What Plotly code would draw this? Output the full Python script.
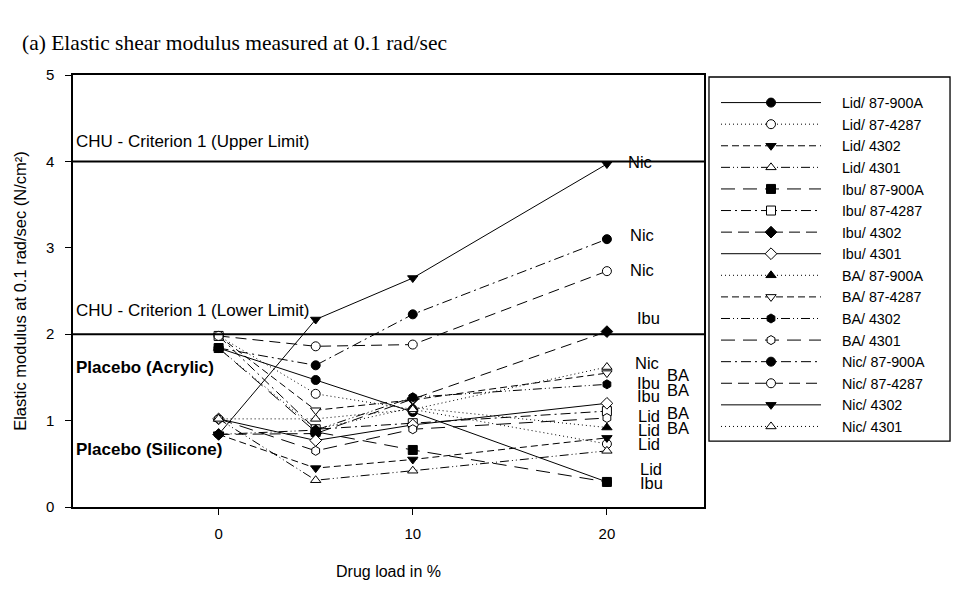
import plotly.graph_objects as go

# ---------------- data ----------------
drug_load = [0, 5, 10, 20]

series_names = [
    "Lid/ 87-900A", "Lid/ 87-4287", "Lid/ 4302", "Lid/ 4301",
    "Ibu/ 87-900A", "Ibu/ 87-4287", "Ibu/ 4302", "Ibu/ 4301",
    "BA/ 87-900A", "BA/ 87-4287", "BA/ 4302", "BA/ 4301",
    "Nic/ 87-900A", "Nic/ 87-4287", "Nic/ 4302", "Nic/ 4301",
]

lid_87_900a = [1.84, 1.47, 1.10, 0.29]
lid_87_4287 = [1.98, 1.31, 1.13, 0.73]
lid_4302 = [0.84, 0.45, 0.55, 0.80]
lid_4301 = [1.02, 0.31, 0.42, 0.65]
ibu_87_900a = [1.84, 0.87, 0.66, 0.29]
ibu_87_4287 = [1.98, 0.90, 0.97, 1.11]
ibu_4302 = [0.84, 0.85, 1.25, 2.03]
ibu_4301 = [1.02, 0.77, 0.95, 1.20]
ba_87_900a = [1.84, 0.90, 1.15, 0.92]
ba_87_4287 = [1.98, 1.12, 1.24, 1.55]
ba_4302 = [0.84, 0.89, 1.27, 1.42]
ba_4301 = [1.02, 0.65, 0.90, 1.03]
nic_87_900a = [1.84, 1.64, 2.23, 3.10]
nic_87_4287 = [1.98, 1.86, 1.88, 2.73]
nic_4302 = [0.84, 2.17, 2.65, 3.97]
nic_4301 = [1.02, 1.02, 1.13, 1.62]

series_values = [
    lid_87_900a, lid_87_4287, lid_4302, lid_4301,
    ibu_87_900a, ibu_87_4287, ibu_4302, ibu_4301,
    ba_87_900a, ba_87_4287, ba_4302, ba_4301,
    nic_87_900a, nic_87_4287, nic_4302, nic_4301,
]

criterion_levels = [4, 2]
criterion_texts = ["CHU - Criterion 1 (Upper Limit)", "CHU - Criterion 1 (Lower Limit)"]
criterion_text_y = [4.23, 2.27]

placebo_texts = ["Placebo (Acrylic)", "Placebo (Silicone)"]
placebo_y = [1.62, 0.66]

end_labels = ["Nic", "Nic", "Nic", "Ibu", "Nic", "Ibu", "Ibu", "Lid", "Lid", "Lid", "Lid", "Ibu",
              "BA", "BA", "BA", "BA"]
end_label_x = [21.0, 21.1, 21.1, 21.45, 21.35, 21.45, 21.45, 21.5, 21.5, 21.5, 21.6, 21.6,
               23.0, 23.0, 23.0, 23.0]
end_label_y = [3.99, 3.15, 2.74, 2.19, 1.67, 1.43, 1.29, 1.05, 0.89, 0.73, 0.44, 0.28,
               1.53, 1.36, 1.09, 0.91]

x_ticks = [0, 10, 20]
y_ticks = [0, 1, 2, 3, 4, 5]

# ---------------- styles ----------------
DOT = "1px,3px"
DASH = "7px,4px"
DASHDOTDOT = "9px,3px,1px,3px,1px,3px"
LONGDASH = "14px,8px"
DASHDOT = "10px,4px,2px,4px"
MEDDASH = "11px,6px"

styles = [
    ("solid", "circle", True),
    (DOT, "circle", False),
    (DASH, "triangle-down", True),
    (DASHDOTDOT, "triangle-up", False),
    (LONGDASH, "square", True),
    (DASHDOT, "square", False),
    (MEDDASH, "diamond", True),
    ("solid", "diamond", False),
    (DOT, "triangle-up", True),
    (DASH, "triangle-down", False),
    (DASHDOTDOT, "hexagon", True),
    (LONGDASH, "hexagon", False),
    (DASHDOT, "circle", True),
    (MEDDASH, "circle", False),
    ("solid", "triangle-down", True),
    (DOT, "triangle-up", False),
]

PAD = "&nbsp;" * 4

fig = go.Figure()
for name, vals, (dash, sym, filled) in zip(series_names, series_values, styles):
    fig.add_trace(go.Scatter(
        x=drug_load, y=vals, name=PAD + name, mode="lines+markers",
        line=dict(color="black", width=1, dash=dash),
        marker=dict(symbol=sym, size=9,
                    color="black" if filled else "white",
                    line=dict(color="black", width=1)),
    ))

for lvl in criterion_levels:
    fig.add_shape(type="line", xref="paper", x0=0, x1=1, yref="y", y0=lvl, y1=lvl,
                  line=dict(color="black", width=2))

SANS = "Liberation Sans, Arial, sans-serif"
for t, y in zip(criterion_texts, criterion_text_y):
    fig.add_annotation(x=0.002, xref="paper", y=y, yref="y", text=t, showarrow=False,
                       xanchor="left", yanchor="middle",
                       font=dict(family=SANS, size=17, color="black"))
for t, y in zip(placebo_texts, placebo_y):
    fig.add_annotation(x=0.001, xref="paper", y=y, yref="y", text="<b>%s</b>" % t, showarrow=False,
                       xanchor="left", yanchor="middle",
                       font=dict(family=SANS, size=17, color="black"))
for t, x, y in zip(end_labels, end_label_x, end_label_y):
    fig.add_annotation(x=x, y=y, text=t, showarrow=False, xanchor="left", yanchor="middle",
                       font=dict(family=SANS, size=16.5, color="black"))

# legend frame
fig.add_shape(type="rect", xref="paper", yref="paper",
              x0=1.0079, x1=1.3899, y0=0.1526, y1=0.9954,
              line=dict(color="black", width=1.3))

fig.update_layout(
    width=957, height=590,
    margin=dict(l=73, r=253, t=75, b=76),
    paper_bgcolor="white", plot_bgcolor="white",
    font=dict(family=SANS, color="black"),
    title=dict(text="(a) Elastic shear modulus measured at 0.1 rad/sec",
               x=22/957, xanchor="left", xref="container",
               y=1-42/590, yanchor="middle", yref="container",
               font=dict(family="Liberation Serif, Times New Roman, serif", size=21.5, color="black")),
    showlegend=True,
    legend=dict(x=(716-73)/631, xanchor="left", y=0.9727, yanchor="top",
                bgcolor="rgba(0,0,0,0)", borderwidth=0,
                font=dict(family=SANS, size=14.3, color="black"),
                itemwidth=100, tracegroupgap=0, itemclick=False),
    xaxis=dict(range=[-7.5, 25], tickvals=x_ticks, showgrid=False, zeroline=False,
               showline=True, linecolor="black", linewidth=1.5, mirror=True,
               ticks="outside", ticklen=6, tickcolor="black", tickwidth=1,
               tickfont=dict(size=15), ticklabelstandoff=6,
               title=dict(text="Drug load in %", font=dict(size=16), standoff=25)),
    yaxis=dict(range=[0, 5], tickvals=y_ticks, showgrid=False, zeroline=False,
               showline=True, linecolor="black", linewidth=1.5, mirror=True,
               ticks="outside", ticklen=6, tickcolor="black", tickwidth=1,
               tickfont=dict(size=15), ticklabelstandoff=8,
               title=dict(text="Elastic modulus at 0.1 rad/sec (N/cm²)", font=dict(size=16.5), standoff=15)),
)

# remove the browser's default 8px page margin so the 957x590 figure fills the window
fig.write_html("out.html", config={"displayModeBar": False},
               post_script="document.body.style.margin='0';")
